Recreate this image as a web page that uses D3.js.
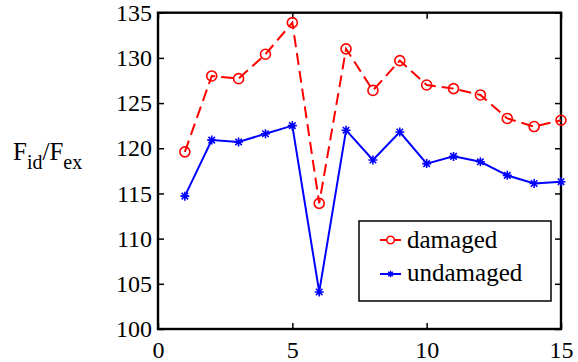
<!DOCTYPE html>
<html>
<head>
<meta charset="utf-8">
<script src="https://cdn.jsdelivr.net/npm/d3@7"></script>
<style>
	body { margin: 0; background: #fff; }
	text { font-family: "Liberation Serif", "Times New Roman", serif; }
</style>
</head>
<body>
<div id="myChart"></div>
<script>
// data
const xs = [1, 2, 3, 4, 5, 6, 7, 8, 9, 10, 11, 12, 13, 14, 15];
const damaged = [119.6, 128.0, 127.7, 130.4, 133.9, 113.9, 131.0, 126.4, 129.7, 127.0, 126.6, 125.9, 123.3, 122.4, 123.1];
const undamaged = [114.7, 120.9, 120.7, 121.6, 122.5, 104.1, 122.0, 118.7, 121.8, 118.3, 119.1, 118.5, 117.0, 116.1, 116.3];
const xTicks = [0, 5, 10, 15];
const yTicks = [100, 105, 110, 115, 120, 125, 130, 135];

function asterisk(s) {
	// MATLAB style '*' : plus + cross
	let d = s * 0.72;
	return "M" + (-s) + ",0L" + s + ",0M0," + (-s) + "L0," + s +
		"M" + (-d) + "," + (-d) + "L" + d + "," + d +
		"M" + (-d) + "," + d + "L" + d + "," + (-d);
}

function plotChart() {
	var width = 578, height = 362;
	var left = 158, right = 561, top = 12.7, bottom = 329;

	var svg = d3.select('#myChart')
		.append('svg')
		.attr('width', width)
		.attr('height', height)
		.attr('font-family', 'Liberation Serif');

	var x = d3.scaleLinear().domain([0, 15]).range([left, right]);
	var y = d3.scaleLinear().domain([100, 135]).range([bottom, top]);

	// axes, ticks pointing inward
	var gx = svg.append('g')
		.attr('transform', 'translate(0,' + bottom + ')')
		.call(d3.axisBottom(x).tickValues(xTicks).tickSize(-6).tickSizeOuter(0).tickPadding(12));
	var gy = svg.append('g')
		.attr('transform', 'translate(' + left + ',0)')
		.call(d3.axisLeft(y).tickValues(yTicks).tickSize(-6).tickSizeOuter(0).tickPadding(6));
	var gt = svg.append('g')
		.attr('transform', 'translate(0,' + top + ')')
		.call(d3.axisTop(x).tickValues(xTicks).tickSize(-6).tickSizeOuter(0).tickFormat(''));
	var gr = svg.append('g')
		.attr('transform', 'translate(' + right + ',0)')
		.call(d3.axisRight(y).tickValues(yTicks).tickSize(-6).tickSizeOuter(0).tickFormat(''));

	[gx, gy, gt, gr].forEach(function (g) {
		g.attr('font-family', 'Liberation Serif').attr('font-size', 24);
		g.select('.domain').remove();
		g.selectAll('line').attr('stroke', '#000').attr('stroke-width', 1.5);
		g.selectAll('text').attr('fill', '#000');
	});

	svg.append('rect')
		.attr('x', left)
		.attr('y', top)
		.attr('width', right - left)
		.attr('height', bottom - top)
		.attr('fill', 'none')
		.attr('stroke', '#000')
		.attr('stroke-width', 2.4);

	// y label  F_id / F_ex
	var lab = svg.append('text')
		.attr('x', 13)
		.attr('y', 160)
		.style('font-size', '25px');
	lab.append('tspan').text('F');
	lab.append('tspan').attr('dy', 9).style('font-size', '20px').text('id');
	lab.append('tspan').attr('dy', -9).text('/F');
	lab.append('tspan').attr('dy', 9).style('font-size', '20px').text('ex');

	var line = d3.line()
		.x(function (d, i) { return x(xs[i]); })
		.y(function (d) { return y(d); });

	// damaged
	svg.append('path')
		.datum(damaged)
		.attr('d', line)
		.attr('fill', 'none')
		.attr('stroke', '#ff0000')
		.attr('stroke-width', 2)
		.attr('stroke-dasharray', '12,6');
	svg.selectAll('.dmg')
		.data(damaged)
		.enter().append('circle')
		.attr('class', 'dmg')
		.attr('cx', function (d, i) { return x(xs[i]); })
		.attr('cy', function (d) { return y(d); })
		.attr('r', 5)
		.attr('fill', 'none')
		.attr('stroke', '#ff0000')
		.attr('stroke-width', 1.6);

	// undamaged
	svg.append('path')
		.datum(undamaged)
		.attr('d', line)
		.attr('fill', 'none')
		.attr('stroke', '#0000ff')
		.attr('stroke-width', 2);
	svg.selectAll('.und')
		.data(undamaged)
		.enter().append('path')
		.attr('class', 'und')
		.attr('transform', function (d, i) { return 'translate(' + x(xs[i]) + ',' + y(d) + ')'; })
		.attr('d', asterisk(4.5))
		.attr('fill', 'none')
		.attr('stroke', '#0000ff')
		.attr('stroke-width', 1.6);

	// legend
	var lg = svg.append('g');
	lg.append('rect')
		.attr('x', 359)
		.attr('y', 221)
		.attr('width', 192)
		.attr('height', 80)
		.attr('fill', '#fff')
		.attr('stroke', '#000')
		.attr('stroke-width', 1.5);
	lg.append('line')
		.attr('x1', 380).attr('x2', 401).attr('y1', 240).attr('y2', 240)
		.attr('stroke', '#ff0000').attr('stroke-width', 2);
	lg.append('circle')
		.attr('cx', 390.5).attr('cy', 240).attr('r', 3.8)
		.attr('fill', '#fff').attr('stroke', '#ff0000').attr('stroke-width', 1.6);
	lg.append('text')
		.attr('x', 407).attr('y', 248)
		.style('font-size', '25px')
		.text('damaged');
	lg.append('line')
		.attr('x1', 380).attr('x2', 401).attr('y1', 274).attr('y2', 274)
		.attr('stroke', '#0000ff').attr('stroke-width', 2);
	lg.append('path')
		.attr('transform', 'translate(390.5,274)')
		.attr('d', asterisk(3.2))
		.attr('fill', 'none').attr('stroke', '#0000ff').attr('stroke-width', 1.4);
	lg.append('text')
		.attr('x', 407).attr('y', 281)
		.style('font-size', '25px')
		.text('undamaged');
}

function init() {
	plotChart();
}

document.addEventListener('DOMContentLoaded', init, false);
</script>
</body>
</html>
